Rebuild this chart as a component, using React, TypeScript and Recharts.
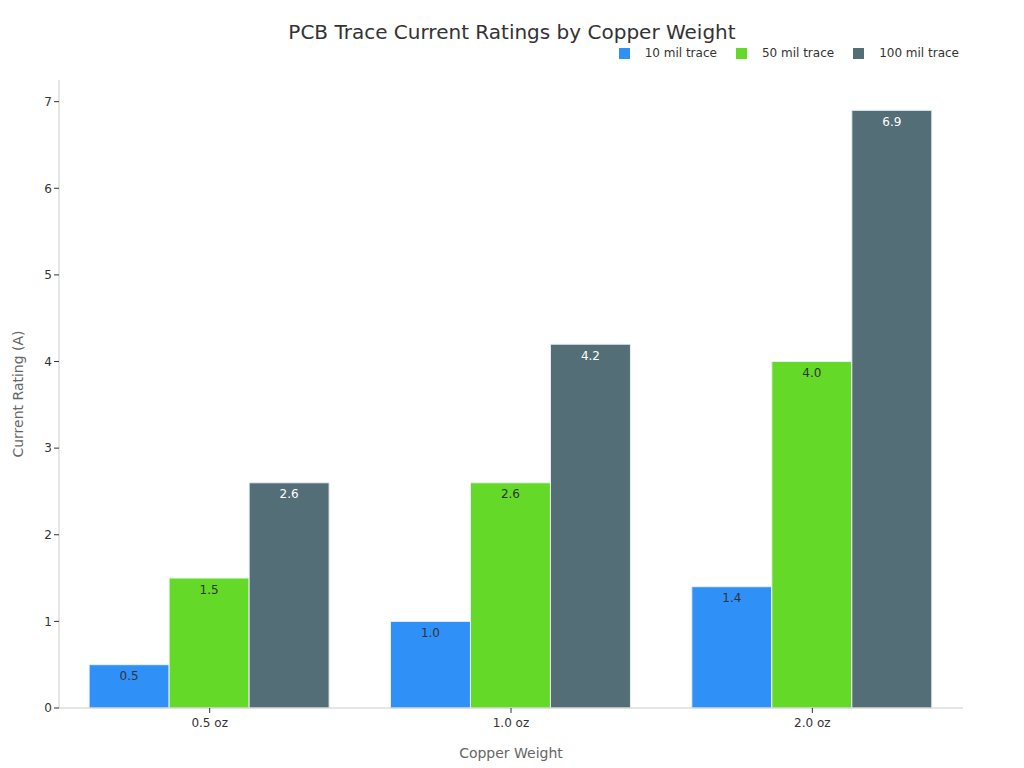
import React from 'react';
import { BarChart, Bar, XAxis, YAxis, LabelList } from 'recharts';

const categories = ['0.5 oz', '1.0 oz', '2.0 oz'];
const trace10 = [0.5, 1.0, 1.4];
const trace50 = [1.5, 2.6, 4.0];
const trace100 = [2.6, 4.2, 6.9];
const yTicks = [0, 1, 2, 3, 4, 5, 6, 7];

const series = [
  { key: 'trace10', name: '10 mil trace', color: '#2f91f7', labelColor: '#333' },
  { key: 'trace50', name: '50 mil trace', color: '#65d928', labelColor: '#333' },
  { key: 'trace100', name: '100 mil trace', color: '#546e78', labelColor: '#fff' },
];

const data = categories.map((c, i) => ({
  name: c,
  trace10: trace10[i],
  trace50: trace50[i],
  trace100: trace100[i],
}));

const font = "'DejaVu Sans', sans-serif";

const App = () => {
  return (
    <div style={{ position: 'absolute', left: 0, top: 0, width: 1024, height: 768, background: '#fff' }}>
      <div
        style={{
          position: 'absolute',
          top: 20,
          left: 0,
          width: 1024,
          textAlign: 'center',
          fontFamily: font,
          fontSize: 20,
          color: '#333',
        }}
      >
        PCB Trace Current Ratings by Copper Weight
      </div>
      {/* legend, top right */}
      <div
        style={{
          position: 'absolute',
          top: 46,
          right: 65,
          display: 'flex',
          fontFamily: font,
          fontSize: 12,
          color: '#333',
        }}
      >
        {series.map((s) => (
          <div key={s.key} style={{ display: 'flex', alignItems: 'center', marginLeft: 19 }}>
            <span style={{ width: 11, height: 11, background: s.color, display: 'inline-block', marginRight: 15 }} />
            <span>{s.name}</span>
          </div>
        ))}
      </div>
      <BarChart
        width={1024}
        height={768}
        data={data}
        margin={{ top: 80, right: 61, bottom: 0, left: 0 }}
        barCategoryGap="10%"
        barGap={0}
      >
        <XAxis
          dataKey="name"
          height={60}
          stroke="#ccc"
          tick={{ fill: '#333', fontSize: 12, fontFamily: font }}
          tickLine={{ stroke: '#333' }}
          tickSize={5}
          tickMargin={5}
          label={{ value: 'Copper Weight', position: 'insideBottom', offset: 10, fill: '#666', fontSize: 14, fontFamily: font }}
        />
        <YAxis
          width={59}
          domain={[0, 7.25]}
          ticks={yTicks}
          stroke="#ccc"
          tick={{ fill: '#333', fontSize: 12, fontFamily: font }}
          tickLine={{ stroke: '#333' }}
          tickSize={5}
          label={{
            value: 'Current Rating (A)',
            angle: -90,
            position: 'insideLeft',
            offset: 18,
            style: { textAnchor: 'middle' },
            fill: '#666',
            fontSize: 14,
            fontFamily: font,
          }}
        />
        {series.map((s) => (
          <Bar key={s.key} dataKey={s.key} name={s.name} fill={s.color} stroke="#e8f0f5" strokeWidth={1} isAnimationActive={false}>
            <LabelList
              dataKey={s.key}
              position="insideTop"
              offset={7}
              formatter={(v: number) => v.toFixed(1)}
              fill={s.labelColor}
              fontSize={12}
              fontFamily={font}
            />
          </Bar>
        ))}
      </BarChart>
    </div>
  );
};

export default App;
